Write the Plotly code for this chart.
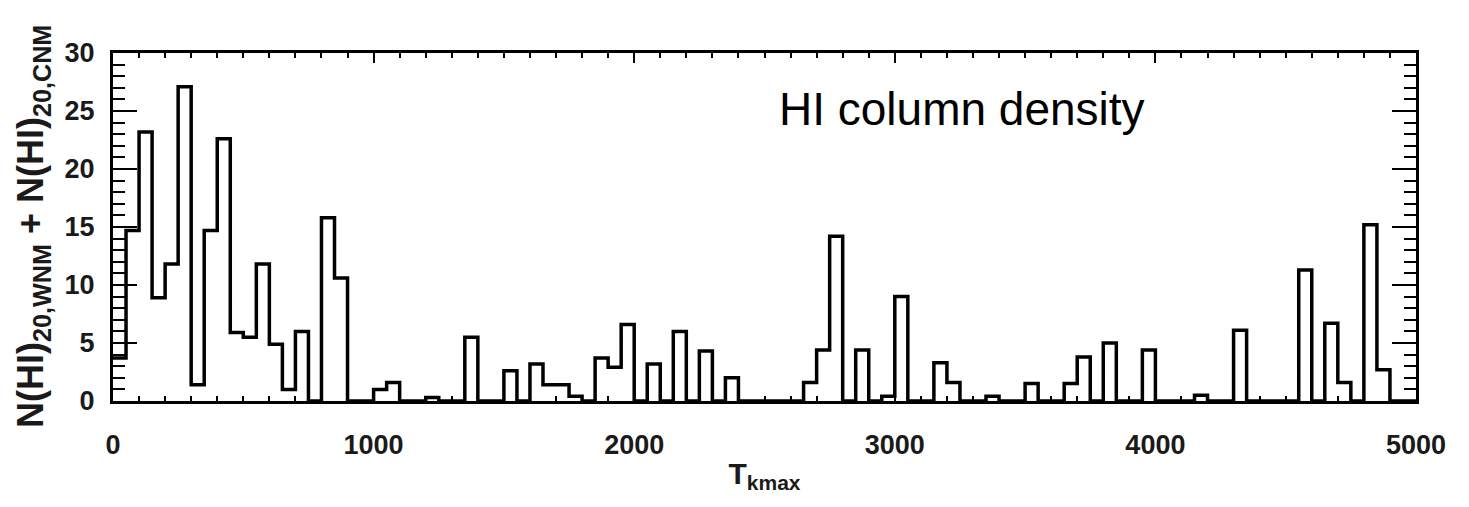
import numpy as np
import plotly.graph_objects as go

# ---- data ----
BIN_WIDTH = 50          # K per histogram bin
T_MIN, T_MAX = 0, 5000  # range of the x axis

# N(HI)_20 summed over WNM + CNM, per T_kmax bin of 50 K (bins 0-50, 50-100, ...)
nhi_sum = [
    3.7, 14.7, 23.2, 8.9, 11.8, 27.1, 1.4, 14.7, 22.6, 5.9,      # 0-500
    5.5, 11.8, 4.9, 1.0, 6.0, 0.0, 15.8, 10.6, 0.0, 0.0,         # 500-1000
    1.0, 1.6, 0.0, 0.0, 0.3, 0.0, 0.0, 5.5, 0.0, 0.0,            # 1000-1500
    2.6, 0.0, 3.2, 1.4, 1.4, 0.4, 0.0, 3.7, 2.9, 6.6,            # 1500-2000
    0.0, 3.2, 0.0, 6.0, 0.0, 4.3, 0.0, 2.0, 0.0, 0.0,            # 2000-2500
    0.0, 0.0, 0.0, 1.6, 4.4, 14.2, 0.0, 4.4, 0.0, 0.4,           # 2500-3000
    9.0, 0.0, 0.0, 3.3, 1.6, 0.0, 0.0, 0.4, 0.0, 0.0,            # 3000-3500
    1.5, 0.0, 0.0, 1.5, 3.8, 0.0, 5.0, 0.0, 0.0, 4.4,            # 3500-4000
    0.0, 0.0, 0.0, 0.5, 0.0, 0.0, 6.1, 0.0, 0.0, 0.0,            # 4000-4500
    0.0, 11.3, 0.0, 6.7, 1.6, 0.0, 15.2, 2.7, 0.0, 0.0,          # 4500-5000
]

x_tickvals = [0, 1000, 2000, 3000, 4000, 5000]
x_ticktext = ["0", "1000", "2000", "3000", "4000", "5000"]
y_tickvals = [0, 5, 10, 15, 20, 25, 30]
y_ticktext = ["0", "5", "10", "15", "20", "25", "30"]

x_title = "T<sub>kmax</sub>"
y_title = "N(HI)<sub>20,WNM</sub> + N(HI)<sub>20,CNM</sub>"
label_text = "HI column density"

# ---- step outline of the histogram ----
edges = np.arange(T_MIN, T_MAX + BIN_WIDTH, BIN_WIDTH)
step_y = list(nhi_sum) + [nhi_sum[-1]]

fig = go.Figure()
fig.add_trace(go.Scatter(
    x=edges, y=step_y, mode="lines",
    line=dict(shape="hv", color="black", width=3.5),
    showlegend=False, hoverinfo="skip",
))

tick_font = dict(family="Liberation Sans, Arial, sans-serif", size=27,
                 color="#1a1a1a", weight="bold")

fig.update_layout(
    width=1469, height=507,
    margin=dict(l=113, r=53, t=53, b=106),
    paper_bgcolor="white", plot_bgcolor="white",
    font=dict(family="Liberation Sans, Arial, sans-serif", color="black"),
    xaxis=dict(
        range=[T_MIN, T_MAX],
        tickvals=x_tickvals, ticktext=x_ticktext,
        ticks="inside", ticklen=10, tickwidth=2, tickcolor="black",
        minor=dict(dtick=100, ticks="inside", ticklen=5, tickwidth=2, tickcolor="black"),
        showline=True, linewidth=3, linecolor="black", mirror="allticks",
        showgrid=False, zeroline=False,
        tickfont=tick_font, ticklabelstandoff=18,
        title=dict(text=x_title,
                   font=dict(size=30, color="#1a1a1a", weight="bold"),
                   standoff=4),
    ),
    yaxis=dict(
        range=[0, 30],
        tickvals=y_tickvals, ticktext=y_ticktext,
        ticks="inside", ticklen=24, tickwidth=2, tickcolor="black",
        minor=dict(dtick=1, ticks="inside", ticklen=12, tickwidth=2, tickcolor="black"),
        showline=True, linewidth=3, linecolor="black", mirror="allticks",
        showgrid=False, zeroline=False,
        tickfont=tick_font, ticklabelstandoff=10,
    ),
    annotations=[
        dict(text=label_text, xref="x", yref="y", x=2548, y=25.2,
             xanchor="left", yanchor="middle", showarrow=False,
             font=dict(family="Liberation Sans, Arial, sans-serif", size=46, color="black")),
        dict(text=y_title, xref="paper", yref="paper", x=0, y=0.5,
             xanchor="center", yanchor="middle", xshift=-80, textangle=-90,
             showarrow=False,
             font=dict(family="Liberation Sans, Arial, sans-serif", size=36,
                       color="#1a1a1a", weight="bold")),
    ],
)

fig.write_html("out.html")
